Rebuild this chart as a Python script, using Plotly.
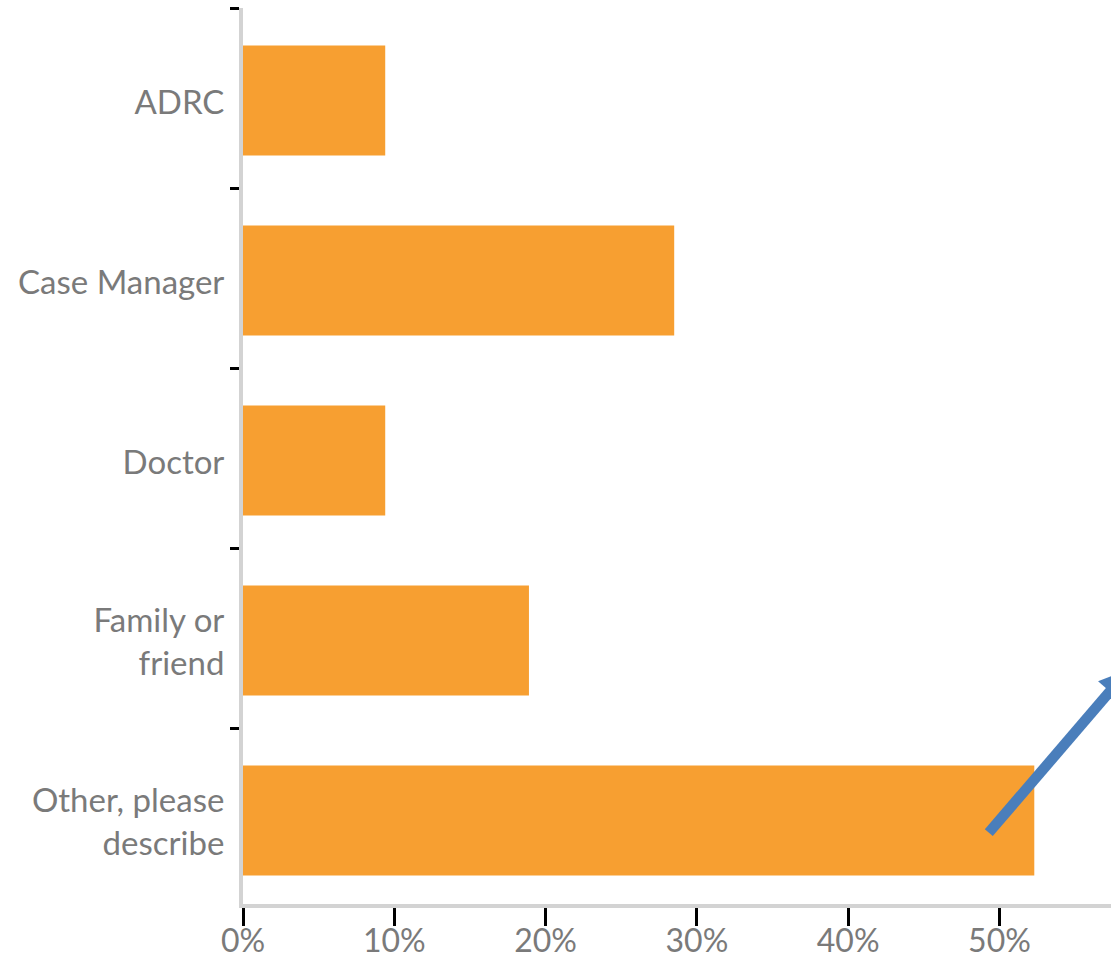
import plotly.graph_objects as go

categories = ["ADRC", "Case Manager", "Doctor", "Family or<br>friend", "Other, please<br>describe"]
values = [0.094, 0.285, 0.094, 0.189, 0.523]
x_tickvals = [0, 0.1, 0.2, 0.3, 0.4, 0.5]
x_ticktext = ["0%", "10%", "20%", "30%", "40%", "50%"]

BAR = "#F79F31"
TXT = "#7a7a7a"
FONT = "Lato"
ARROW = "#4A7EBB"

# plot area in pixels
PL, PR, PT, PB = 243, 1111, 8, 904
BAND = 180.0  # pixels per category band

fig = go.Figure(go.Bar(
    y=categories, x=values, orientation="h",
    marker=dict(color=BAR, line=dict(width=0)),
    width=0.611, offset=-0.2915,
))

fig.update_layout(
    width=1111, height=959,
    margin=dict(l=PL, r=1111 - PR, t=PT, b=959 - PB),
    paper_bgcolor="white", plot_bgcolor="white",
    showlegend=False,
    font=dict(family=FONT, size=32, color=TXT),
)
fig.update_yaxes(
    categoryorder="array", categoryarray=categories,
    range=[-0.5 + (PB - PT) / BAND, -0.5],
    showline=True, linecolor="#D3D3D3", linewidth=4,
    ticks="outside", tickson="boundaries", ticklen=9, tickwidth=3, tickcolor="black",
    showgrid=False, zeroline=False, automargin=False,
    tickfont=dict(family=FONT, size=33, color=TXT),
    ticklabelstandoff=8, ticklabelshift=-4,
)
fig.update_xaxes(
    range=[0, 0.5737],
    tickvals=x_tickvals, ticktext=x_ticktext,
    showline=True, linecolor="#D3D3D3", linewidth=4,
    ticks="outside", ticklen=18, tickwidth=3, tickcolor="black",
    showgrid=False, zeroline=False, automargin=False,
    tickfont=dict(family=FONT, size=32, color=TXT),
    ticklabelstandoff=-12,
)

# blue callout arrow (runs off the right edge), given in page pixels
def px(X):
    return (X - PL) / (PR - PL)

def py(Y):
    return (PB - Y) / (PB - PT)

tail = (988.8, 832.7)
u = (0.651, -0.759)        # direction
n = (0.759, 0.651)         # perpendicular
t_base, t_tip, half_w = 186, 216, 15.6
base = (tail[0] + u[0] * t_base, tail[1] + u[1] * t_base)
tip = (tail[0] + u[0] * t_tip, tail[1] + u[1] * t_tip)
wl = (base[0] - n[0] * half_w, base[1] - n[1] * half_w)
wr = (base[0] + n[0] * half_w, base[1] + n[1] * half_w)

fig.add_shape(type="line", xref="paper", yref="paper",
              x0=px(tail[0]), y0=py(tail[1]), x1=px(base[0] + u[0]), y1=py(base[1] + u[1]),
              line=dict(color=ARROW, width=10.5))
fig.add_shape(type="path", xref="paper", yref="paper",
              path=f"M {px(wl[0])},{py(wl[1])} L {px(tip[0])},{py(tip[1])} L {px(wr[0])},{py(wr[1])} Z",
              fillcolor=ARROW, line=dict(width=0))

fig.write_html("out.html", config={"displayModeBar": False},
               post_script="document.body.style.margin='0';")
